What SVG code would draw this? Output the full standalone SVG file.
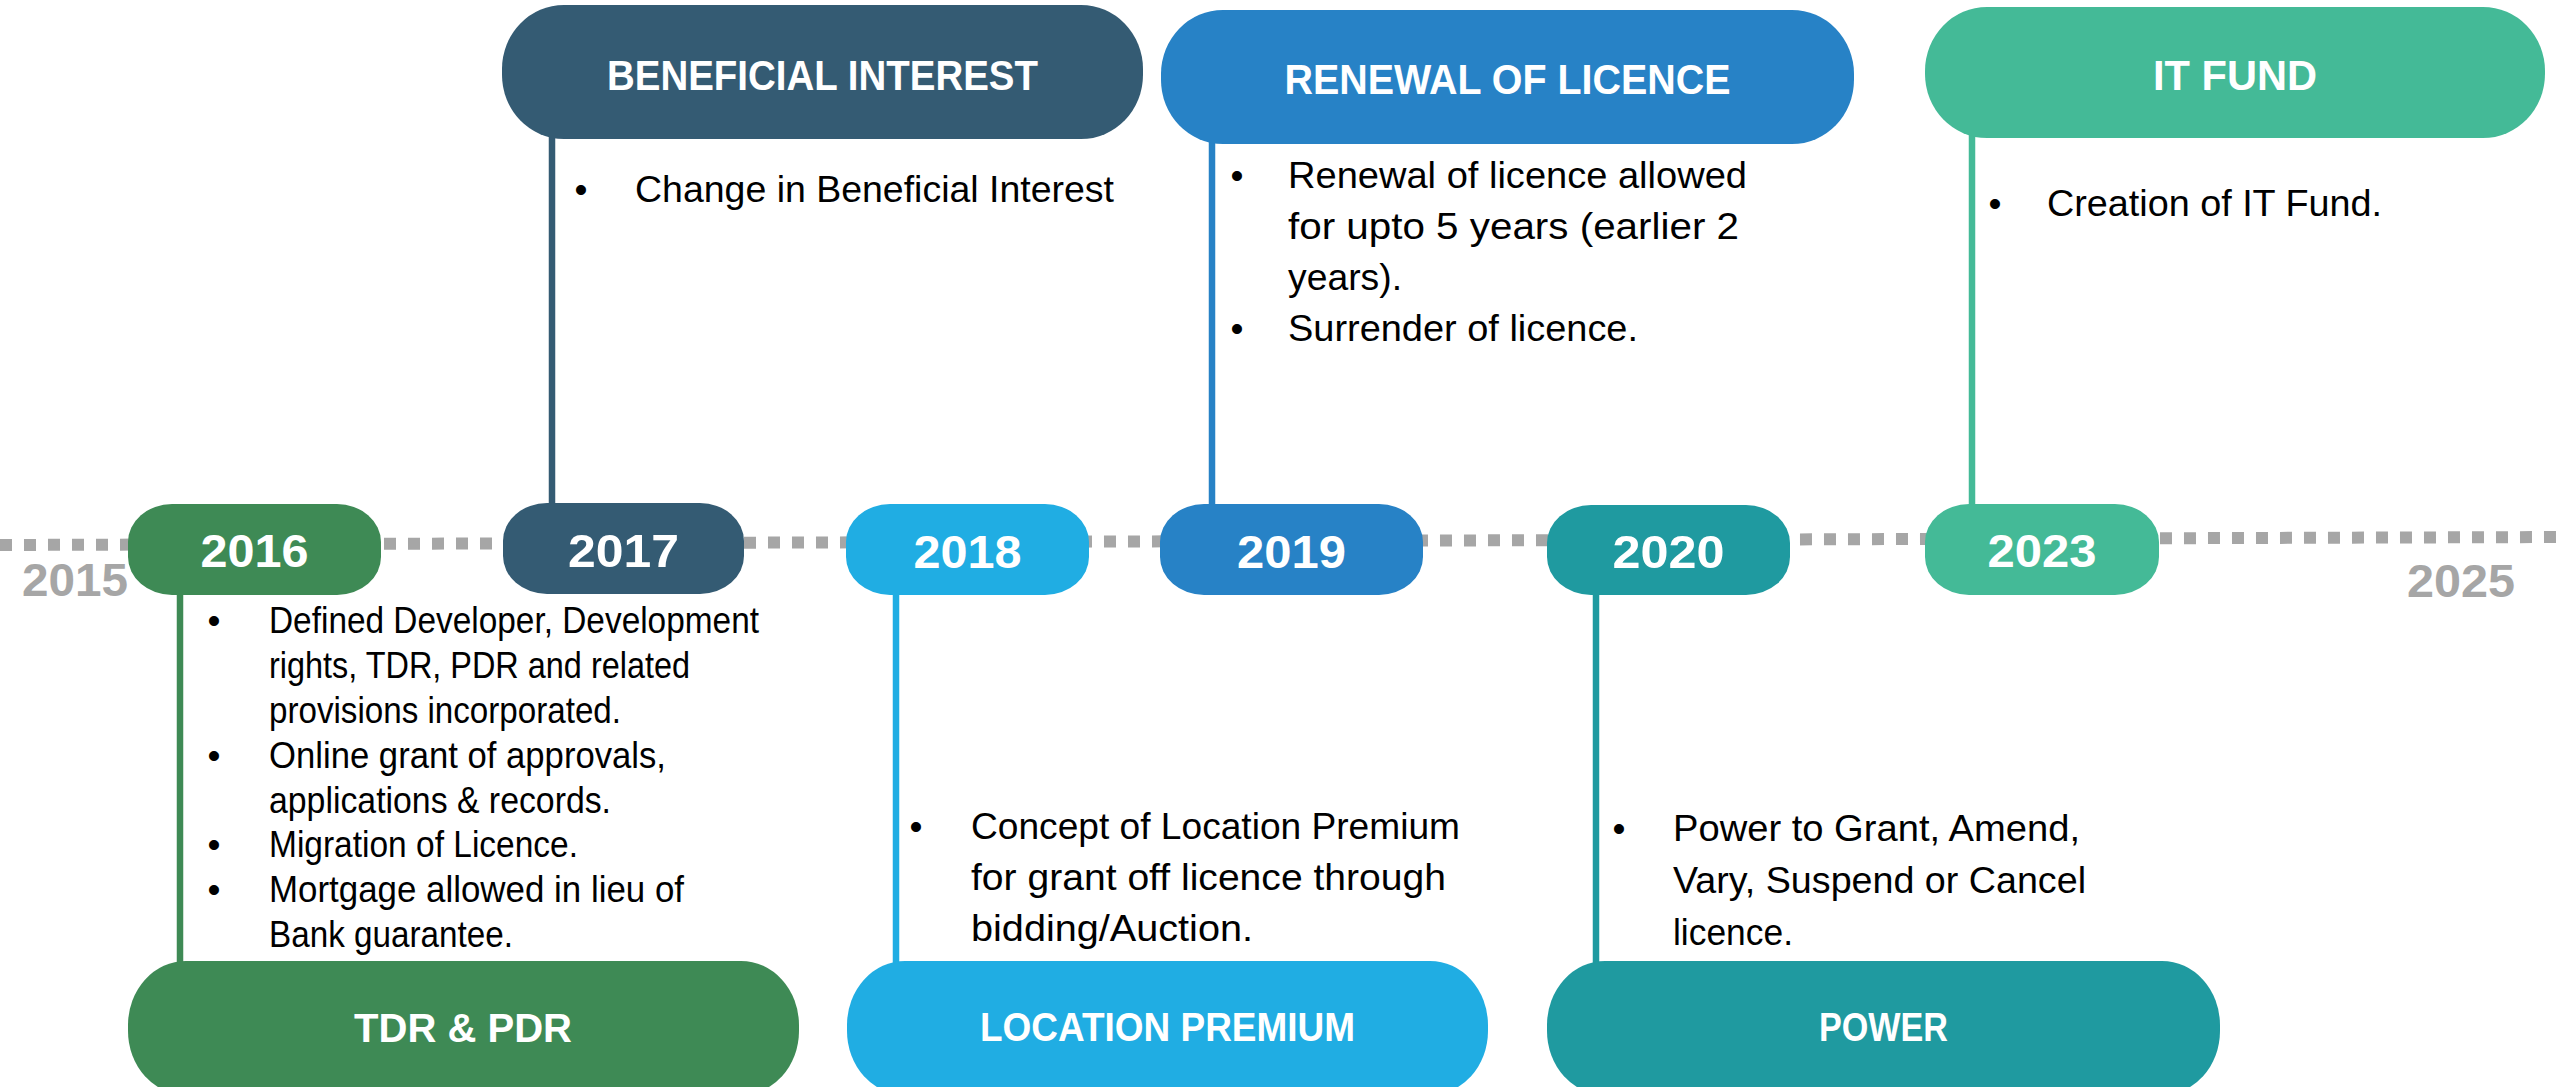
<svg xmlns="http://www.w3.org/2000/svg" width="2560" height="1087" viewBox="0 0 2560 1087">
<style>
.t{font-family:"Liberation Sans",Arial,sans-serif;font-size:37px;fill:#000}
.b{font-family:"Liberation Sans",Arial,sans-serif;font-size:37px;fill:#000;text-anchor:middle}
.h{font-family:"Liberation Sans",Arial,sans-serif;font-weight:bold;font-size:43px;fill:#fff;text-anchor:middle}
.hb{font-family:"Liberation Sans",Arial,sans-serif;font-weight:bold;font-size:41px;fill:#fff;text-anchor:middle}
.y{font-family:"Liberation Sans",Arial,sans-serif;font-weight:bold;font-size:47px;fill:#fff;text-anchor:middle}
.g{font-family:"Liberation Sans",Arial,sans-serif;font-weight:bold;font-size:46px;fill:#A6A6A6}
.c{stroke-width:6.5;fill:none}
.green{fill:#3E8A55}.slate{fill:#345B73}.sky{fill:#20ADE3}.blue{fill:#2782C6}.teal{fill:#1F9AA0}.mint{fill:#44BA97}
</style>
<rect width="2560" height="1087" fill="#fff"/>
<g id="axis">
<line x1="0" y1="545" x2="2560" y2="537" stroke="#A6A6A6" stroke-width="12" stroke-dasharray="12 12"/>
<text class="g" x="22" y="596" textLength="106" lengthAdjust="spacingAndGlyphs">2015</text>
<text class="g" x="2407" y="597" textLength="108" lengthAdjust="spacingAndGlyphs">2025</text>
</g>
<g id="connectors">
<line class="c" x1="180" y1="592" x2="180" y2="964" stroke="#3E8A55"/>
<line class="c" x1="552" y1="136" x2="552" y2="506" stroke="#345B73"/>
<line class="c" x1="896" y1="592" x2="896" y2="964" stroke="#20ADE3"/>
<line class="c" x1="1212" y1="141" x2="1212" y2="507" stroke="#2782C6"/>
<line class="c" x1="1596" y1="592" x2="1596" y2="964" stroke="#1F9AA0"/>
<line class="c" x1="1972" y1="135" x2="1972" y2="507" stroke="#44BA97"/>
</g>
<g id="y2016">
<rect class="green" x="128" y="504" width="253" height="91" rx="44" ry="38"/>
<text class="y" x="254.5" y="567" textLength="108" lengthAdjust="spacingAndGlyphs">2016</text>
</g>
<g id="y2017">
<rect class="slate" x="503" y="503" width="241" height="91" rx="44" ry="38"/>
<text class="y" x="623.5" y="567" textLength="111" lengthAdjust="spacingAndGlyphs">2017</text>
</g>
<g id="y2018">
<rect class="sky" x="846" y="504" width="243" height="91" rx="44" ry="38"/>
<text class="y" x="967.5" y="568" textLength="108" lengthAdjust="spacingAndGlyphs">2018</text>
</g>
<g id="y2019">
<rect class="blue" x="1160" y="504" width="263" height="91" rx="44" ry="38"/>
<text class="y" x="1291.5" y="568" textLength="109" lengthAdjust="spacingAndGlyphs">2019</text>
</g>
<g id="y2020">
<rect class="teal" x="1547" y="505" width="243" height="90" rx="44" ry="38"/>
<text class="y" x="1668.5" y="568" textLength="112" lengthAdjust="spacingAndGlyphs">2020</text>
</g>
<g id="y2023">
<rect class="mint" x="1925" y="504" width="234" height="91" rx="44" ry="38"/>
<text class="y" x="2042" y="567" textLength="109" lengthAdjust="spacingAndGlyphs">2023</text>
</g>
<g id="beneficial">
<rect class="slate" x="502" y="5" width="641" height="134" rx="62" ry="64"/>
<text class="h" x="822.5" y="90" textLength="431" lengthAdjust="spacingAndGlyphs">BENEFICIAL INTEREST</text>
<text class="b" x="581" y="202">•</text>
<text class="t" x="635" y="202" textLength="479" lengthAdjust="spacingAndGlyphs">Change in Beneficial Interest</text>
</g>
<g id="renewal">
<rect class="blue" x="1161" y="10" width="693" height="134" rx="62" ry="64"/>
<text class="h" x="1507.5" y="94" textLength="446" lengthAdjust="spacingAndGlyphs">RENEWAL OF LICENCE</text>
<text class="b" x="1237" y="188">•</text>
<text class="t" x="1288" y="188" textLength="459" lengthAdjust="spacingAndGlyphs">Renewal of licence allowed</text>
<text class="t" x="1288" y="239" textLength="451" lengthAdjust="spacingAndGlyphs">for upto 5 years (earlier 2</text>
<text class="t" x="1288" y="290" textLength="114" lengthAdjust="spacingAndGlyphs">years).</text>
<text class="b" x="1237" y="341">•</text>
<text class="t" x="1288" y="341" textLength="350" lengthAdjust="spacingAndGlyphs">Surrender of licence.</text>
</g>
<g id="itfund">
<rect class="mint" x="1925" y="7" width="620" height="131" rx="62" ry="64"/>
<text class="h" x="2235" y="90" textLength="164" lengthAdjust="spacingAndGlyphs">IT FUND</text>
<text class="b" x="1995" y="216">•</text>
<text class="t" x="2047" y="216" textLength="335" lengthAdjust="spacingAndGlyphs">Creation of IT Fund.</text>
</g>
<g id="tdr">
<rect class="green" x="128" y="961" width="671" height="134" rx="58" ry="64"/>
<text class="hb" x="463" y="1041.5" textLength="218" lengthAdjust="spacingAndGlyphs">TDR &amp; PDR</text>
<text class="b" x="214" y="633">•</text>
<text class="t" x="269" y="633" textLength="490" lengthAdjust="spacingAndGlyphs">Defined Developer, Development</text>
<text class="t" x="269" y="678" textLength="421" lengthAdjust="spacingAndGlyphs">rights, TDR, PDR and related</text>
<text class="t" x="269" y="723" textLength="352" lengthAdjust="spacingAndGlyphs">provisions incorporated.</text>
<text class="b" x="214" y="768">•</text>
<text class="t" x="269" y="768" textLength="397" lengthAdjust="spacingAndGlyphs">Online grant of approvals,</text>
<text class="t" x="269" y="813" textLength="342" lengthAdjust="spacingAndGlyphs">applications &amp; records.</text>
<text class="b" x="214" y="857">•</text>
<text class="t" x="269" y="857" textLength="309" lengthAdjust="spacingAndGlyphs">Migration of Licence.</text>
<text class="b" x="214" y="902">•</text>
<text class="t" x="269" y="902" textLength="415" lengthAdjust="spacingAndGlyphs">Mortgage allowed in lieu of</text>
<text class="t" x="269" y="947" textLength="244" lengthAdjust="spacingAndGlyphs">Bank guarantee.</text>
</g>
<g id="location">
<rect class="sky" x="847" y="961" width="641" height="134" rx="58" ry="64"/>
<text class="hb" x="1167.5" y="1041" textLength="375" lengthAdjust="spacingAndGlyphs">LOCATION PREMIUM</text>
<text class="b" x="916" y="839">•</text>
<text class="t" x="971" y="839" textLength="489" lengthAdjust="spacingAndGlyphs">Concept of Location Premium</text>
<text class="t" x="971" y="890" textLength="475" lengthAdjust="spacingAndGlyphs">for grant off licence through</text>
<text class="t" x="971" y="941" textLength="282" lengthAdjust="spacingAndGlyphs">bidding/Auction.</text>
</g>
<g id="power">
<rect class="teal" x="1547" y="961" width="673" height="134" rx="58" ry="64"/>
<text class="hb" x="1883.5" y="1041" textLength="129" lengthAdjust="spacingAndGlyphs">POWER</text>
<text class="b" x="1619" y="841">•</text>
<text class="t" x="1673" y="841" textLength="407" lengthAdjust="spacingAndGlyphs">Power to Grant, Amend,</text>
<text class="t" x="1673" y="893" textLength="413" lengthAdjust="spacingAndGlyphs">Vary, Suspend or Cancel</text>
<text class="t" x="1673" y="945" textLength="120" lengthAdjust="spacingAndGlyphs">licence.</text>
</g>
</svg>
